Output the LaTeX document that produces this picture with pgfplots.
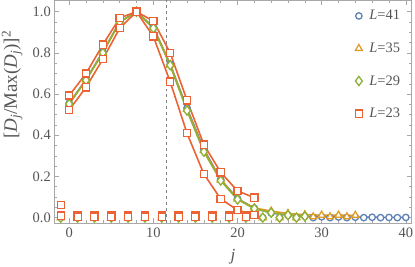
\documentclass[border=0pt]{standalone}
\usepackage{pgfplots}
\pgfplotsset{compat=1.18}
\usepackage{fontspec}
\setmainfont{Liberation Serif}
\usetikzlibrary{calc}
\definecolor{mblue}{HTML}{5E81B5}
\definecolor{myel}{HTML}{E19C24}
\definecolor{mgreen}{HTML}{8FB032}
\definecolor{mred}{HTML}{EB6235}
\definecolor{frame}{HTML}{A8A8A8}
\definecolor{lab}{HTML}{555555}
\begin{document}
\begin{tikzpicture}
\begin{axis}[
  name=ax,
  scale only axis,
  width=357.4bp, height=223bp,
  xmin=-1.77, xmax=40.7,
  ymin=-0.026, ymax=1.057,
  xtick={0,10,20,30,40},
  minor x tick num=4,
  ytick={0,0.2,0.4,0.6,0.8,1.0},
  minor y tick num=3,
  yticklabel style={/pgf/number format/.cd,fixed,fixed zerofill,precision=1},
  /pgf/number format/assume math mode=true,
  tick align=inside,
  major tick length=5bp, minor tick length=3bp,
  axis line style={frame, line width=0.8pt},
  every tick/.style={frame, line width=0.6pt},
  tick label style={font=\fontsize{14.5}{16}\selectfont, text=lab},
  xticklabel style={yshift=-1bp},
  clip=false,
  xlabel={\textit{j}},
  ylabel={[\textit{D}\textsubscript{\textit{j}}/Max(\textit{D}\textsubscript{\textit{j}})]\textsuperscript{2}},
  every axis x label/.style={at={(axis description cs:0.5,-0.152)}, anchor=center,
     font=\fontsize{17}{19}\selectfont, text=lab},
  every axis y label/.style={at={(axis description cs:-0.118,0.62)}, rotate=90, anchor=center,
     font=\fontsize{19}{21}\selectfont, text=lab},
  legend style={at={(0.982,0.972)}, anchor=north east, draw=none, fill=none,
    font=\fontsize{14.5}{16}\selectfont, text=lab, row sep=17.5bp,
    /tikz/every odd column/.append style={column sep=5bp}},
  legend cell align=left,
  every axis plot/.append style={line width=1.6pt},
]
% dashed reference line
\addplot[forget plot, gray, dashed, line width=0.6pt] coordinates {(11.5,-0.026) (11.5,1.057)};

% ---- L=41 (blue circles)
\addplot[forget plot, mblue, mark=*, mark size=3.2bp, mark options={fill=white, line width=1.3pt}, only marks] coordinates {
(-1,0)(1,0)(3,0)(5,0)(7,0)(9,0)(11,0)(13,0)(15,0)(17,0)(19,0)(21,0)(23,0)(25,0)(27,0)(29,0)(31,0)(33,0)(35,0)(37,0)(39,0)};
\addplot[forget plot, mblue, mark=*, mark size=3.2bp, mark options={fill=white, line width=1.3pt}] coordinates {
(0,0.556)(2,0.671)(4,0.806)(6,0.951)(8,1.0)(10,0.926)(12,0.746)(14,0.532)(16,0.333)(18,0.186)(20,0.093)(22,0.046)(24,0.023)(26,0.012)(28,0.006)(30,0.004)(32,0.003)(34,0.002)(36,0.002)(38,0.001)(40,0.001)};

% ---- L=35 (yellow triangles)
\addplot[forget plot, myel, mark=triangle*, mark size=4bp, mark options={fill=white, line width=1.3pt}, only marks] coordinates {
(-1,0)(1,0)(3,0)(5,0)(7,0)(9,0)(11,0)(13,0)(15,0)(17,0)(19,0)(21,0)(23,0)(25,0)(27,0)(29,0.004)(31,0.004)(33,0.004)};
\addplot[forget plot, myel, mark=triangle*, mark size=4bp, mark options={fill=white, line width=1.3pt}] coordinates {
(0,0.554)(2,0.669)(4,0.803)(6,0.950)(8,1.0)(10,0.923)(12,0.743)(14,0.526)(16,0.326)(18,0.183)(20,0.091)(22,0.047)(24,0.032)(26,0.02)(28,0.014)(30,0.012)(32,0.012)(34,0.011)};

% ---- L=29 (green diamonds)
\addplot[forget plot, mgreen, mark=diamond*, mark size=4.6bp, mark options={fill=white, line width=1.3pt}, only marks] coordinates {
(-1,0)(1,0)(3,0)(5,0)(7,0)(9,0)(11,0)(13,0)(15,0)(17,0)(19,0)(21,0)(23,0)(25,0)(27,0)};
\addplot[forget plot, mgreen, mark=diamond*, mark size=4.6bp, mark options={fill=white, line width=1.3pt}] coordinates {
(0,0.552)(2,0.668)(4,0.800)(6,0.950)(8,1.0)(10,0.920)(12,0.740)(14,0.520)(16,0.320)(18,0.180)(20,0.088)(22,0.044)(24,0.024)(26,0.012)(28,0.006)};

% ---- L=23 (red squares), two curves
\addplot[forget plot, mred, mark=square*, mark size=3.6bp, mark options={fill=white, line width=1.3pt}, only marks] coordinates {
(-1,0.062)(1,0.012)(3,0.012)(5,0.012)(7,0.012)(9,0.012)(11,0.012)(13,0.012)(15,0.012)(17,0.012)(19,0.012)(21,0.012)};
\addplot[forget plot, mred, mark=square*, mark size=3.6bp, mark options={fill=white, line width=1.3pt}, only marks] coordinates {
(-1,0.01)(1,0.005)(3,0.005)(5,0.005)(7,0.005)(9,0.005)(11,0.005)(13,0.005)(15,0.005)(17,0.005)(19,0.005)(21,0.005)};
\addplot[forget plot, mred, mark=square*, mark size=3.6bp, mark options={fill=white, line width=1.3pt}] coordinates {
(0,0.593)(2,0.700)(4,0.840)(6,0.970)(8,1.0)(10,0.880)(12,0.660)(14,0.410)(16,0.212)(18,0.091)(20,0.037)(22,0.013)};
\addplot[forget plot, mred, mark=square*, mark size=3.6bp, mark options={fill=white, line width=1.3pt}] coordinates {
(0,0.523)(2,0.633)(4,0.770)(6,0.920)(8,1.0)(10,0.955)(12,0.800)(14,0.570)(16,0.355)(18,0.220)(20,0.130)(22,0.097)};

% legend
\addlegendimage{only marks, mblue, mark=*, mark size=3.2bp, mark options={fill=white, line width=1.3pt}}
\addlegendentry{\textit{L}=41}
\addlegendimage{only marks, myel, mark=triangle*, mark size=4bp, mark options={fill=white, line width=1.3pt}}
\addlegendentry{\textit{L}=35}
\addlegendimage{only marks, mgreen, mark=diamond*, mark size=4.6bp, mark options={fill=white, line width=1.3pt}}
\addlegendentry{\textit{L}=29}
\addlegendimage{only marks, mred, mark=square*, mark size=3.6bp, mark options={fill=white, line width=1.3pt}}
\addlegendentry{\textit{L}=23}
\end{axis}
\pgfresetboundingbox
\path ($(ax.south west)+(-54.3bp,-44bp)$) rectangle ($(ax.north east)+(3.3bp,0bp)$);
\end{tikzpicture}
\end{document}
